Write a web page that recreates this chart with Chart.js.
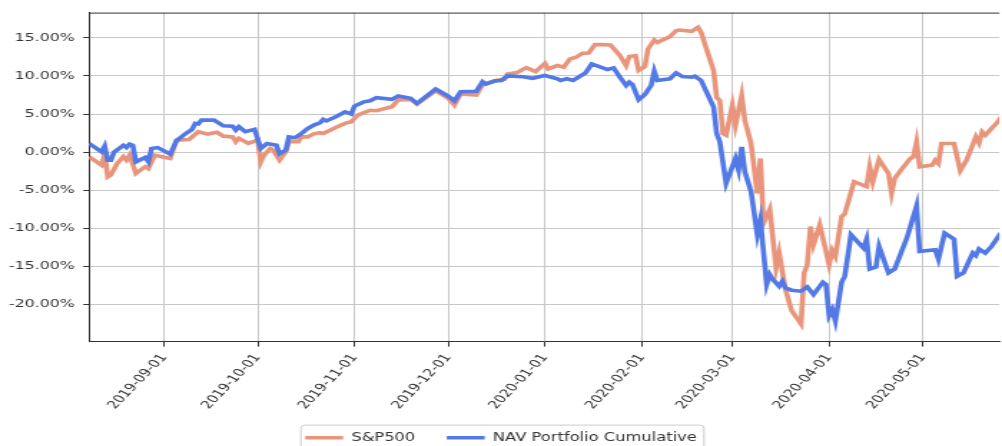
<!DOCTYPE html>
<html>
<head>
<meta charset="utf-8">
<script src="https://cdn.jsdelivr.net/npm/chart.js@4.4.1/dist/chart.umd.min.js"></script>
<style>
  html, body { margin: 0; padding: 0; background: #fff; overflow: hidden; }
  /* the reference picture is stretched sideways, so the chart is drawn narrow and scaled */
  #wrap { width: 700px; height: 446px; transform: scaleX(1.431429); transform-origin: 0 0; }
</style>
</head>
<body>
<div id="wrap"><canvas id="chart"></canvas></div>
<script>
// cumulative return, percent
var spxDates = ['2019-08-08','2019-08-12','2019-08-13','2019-08-14','2019-08-15','2019-08-17','2019-08-19','2019-08-20','2019-08-21','2019-08-23',
  '2019-08-26','2019-08-27','2019-08-29','2019-09-03','2019-09-05','2019-09-09','2019-09-12','2019-09-15','2019-09-18','2019-09-20',
  '2019-09-23','2019-09-24','2019-09-25','2019-09-28','2019-10-01','2019-10-02','2019-10-03','2019-10-05','2019-10-06','2019-10-08',
  '2019-10-10','2019-10-11','2019-10-14','2019-10-15','2019-10-17','2019-10-19','2019-10-21','2019-10-22','2019-10-26','2019-10-29',
  '2019-10-31','2019-11-02','2019-11-06','2019-11-08','2019-11-13','2019-11-15','2019-11-19','2019-11-21','2019-11-27','2019-12-01',
  '2019-12-03','2019-12-05','2019-12-10','2019-12-12','2019-12-16','2019-12-19','2019-12-20','2019-12-23','2019-12-26','2019-12-29',
  '2020-01-01','2020-01-02','2020-01-05','2020-01-07','2020-01-09','2020-01-11','2020-01-13','2020-01-15','2020-01-17','2020-01-19',
  '2020-01-22','2020-01-25','2020-01-27','2020-01-28','2020-01-30','2020-01-31','2020-02-02','2020-02-03','2020-02-05','2020-02-06',
  '2020-02-10','2020-02-12','2020-02-13','2020-02-17','2020-02-19','2020-02-20','2020-02-24','2020-02-25','2020-02-26','2020-02-27',
  '2020-02-28','2020-03-01','2020-03-02','2020-03-04','2020-03-05','2020-03-07','2020-03-09','2020-03-10','2020-03-11','2020-03-13',
  '2020-03-15','2020-03-16','2020-03-18','2020-03-20','2020-03-23','2020-03-24','2020-03-25','2020-03-26','2020-03-27','2020-03-29',
  '2020-04-01','2020-04-02','2020-04-03','2020-04-05','2020-04-06','2020-04-09','2020-04-13','2020-04-14','2020-04-15','2020-04-17',
  '2020-04-20','2020-04-21','2020-04-22','2020-04-24','2020-04-27','2020-04-28','2020-04-29','2020-04-30','2020-05-04','2020-05-05',
  '2020-05-06','2020-05-07','2020-05-11','2020-05-13','2020-05-15','2020-05-18','2020-05-19','2020-05-20','2020-05-21','2020-05-23',
  '2020-05-25','2020-05-26'];
var spxValues = [-0.60,-1.70,-0.20,-3.25,-3.00,-1.50,-0.60,-1.05,-0.40,-2.80,
  -1.90,-2.15,-0.40,-0.83,1.58,1.67,2.68,2.37,2.60,2.10,
  2.00,1.36,1.80,1.14,1.58,-1.27,-0.40,0.48,0.26,-1.05,
  0.04,1.36,1.36,2.00,2.00,2.40,2.55,2.46,3.25,3.77,
  4.00,4.87,5.50,5.44,5.96,6.84,6.93,6.30,8.07,7.06,
  6.18,7.63,7.50,8.80,9.40,9.56,10.26,10.44,11.10,10.57,
  11.66,10.93,11.37,11.15,12.24,12.46,12.98,13.02,14.11,14.11,
  14.07,12.68,11.37,12.55,12.68,10.72,11.24,13.55,14.72,14.42,
  15.16,15.94,16.03,15.86,16.38,15.73,10.72,7.14,6.80,2.44,
  2.22,6.14,3.53,7.45,4.18,1.13,-5.40,-0.83,-9.32,-7.49,
  -15.20,-13.20,-17.99,-20.82,-22.56,-15.86,-14.77,-9.76,-12.15,-9.54,
  -14.77,-12.90,-13.68,-8.45,-8.10,-3.88,-4.53,-1.92,-3.88,-0.96,
  -2.79,-5.40,-3.44,-2.35,-0.83,-0.61,1.35,-1.92,-1.70,-1.05,
  -1.48,1.13,1.13,-2.44,-1.05,2.00,1.22,2.66,2.22,3.09,
  3.96,4.60];

var navDates = ['2019-08-08','2019-08-12','2019-08-13','2019-08-14','2019-08-15','2019-08-16','2019-08-19','2019-08-20','2019-08-21','2019-08-22',
  '2019-08-23','2019-08-26','2019-08-27','2019-08-28','2019-08-30','2019-09-03','2019-09-05','2019-09-08','2019-09-10','2019-09-11',
  '2019-09-12','2019-09-13','2019-09-17','2019-09-20','2019-09-23','2019-09-24','2019-09-25','2019-09-27','2019-09-30','2019-10-02',
  '2019-10-04','2019-10-07','2019-10-08','2019-10-10','2019-10-11','2019-10-13','2019-10-15','2019-10-17','2019-10-19','2019-10-21',
  '2019-10-22','2019-10-23','2019-10-26','2019-10-29','2019-10-31','2019-11-01','2019-11-04','2019-11-06','2019-11-08','2019-11-13',
  '2019-11-15','2019-11-19','2019-11-21','2019-11-27','2019-12-01','2019-12-03','2019-12-05','2019-12-10','2019-12-12','2019-12-13',
  '2019-12-16','2019-12-18','2019-12-20','2019-12-25','2019-12-28','2020-01-01','2020-01-05','2020-01-06','2020-01-08','2020-01-10',
  '2020-01-14','2020-01-16','2020-01-21','2020-01-23','2020-01-25','2020-01-27','2020-01-28','2020-01-29','2020-01-31','2020-02-02',
  '2020-02-04','2020-02-05','2020-02-06','2020-02-10','2020-02-12','2020-02-14','2020-02-17','2020-02-18','2020-02-20','2020-02-23',
  '2020-02-24','2020-02-25','2020-02-26','2020-02-28','2020-03-02','2020-03-03','2020-03-04','2020-03-05','2020-03-07','2020-03-09',
  '2020-03-10','2020-03-12','2020-03-13','2020-03-14','2020-03-16','2020-03-17','2020-03-18','2020-03-20','2020-03-23','2020-03-25',
  '2020-03-27','2020-03-30','2020-03-31','2020-04-01','2020-04-02','2020-04-03','2020-04-05','2020-04-06','2020-04-08','2020-04-12',
  '2020-04-13','2020-04-14','2020-04-16','2020-04-17','2020-04-20','2020-04-22','2020-04-26','2020-04-29','2020-04-30','2020-05-05',
  '2020-05-06','2020-05-08','2020-05-11','2020-05-12','2020-05-14','2020-05-17','2020-05-18','2020-05-19','2020-05-21','2020-05-23',
  '2020-05-26'];
var navValues = [1.14,0.04,0.80,-1.05,-1.05,0.00,0.90,0.60,1.05,0.90,
  -1.27,-0.70,-1.27,0.48,0.60,-0.26,1.50,2.46,2.98,3.77,
  3.70,4.20,4.20,3.46,3.40,2.90,3.33,2.68,3.00,0.48,
  1.14,0.90,-0.20,0.26,2.00,1.90,2.46,3.10,3.55,3.86,
  4.30,4.10,4.65,5.30,5.00,6.05,6.60,6.75,7.15,6.93,
  7.37,7.06,6.40,8.29,7.37,6.75,7.94,8.00,9.25,8.95,
  9.34,9.40,10.00,9.90,9.70,10.06,9.63,9.41,9.63,9.41,
  10.41,11.59,10.85,11.06,9.84,8.76,9.19,8.89,6.88,7.58,
  8.76,10.63,9.41,9.63,10.41,9.93,9.84,9.98,9.41,6.80,
  5.92,2.44,1.35,-4.09,-0.83,-2.35,0.70,-2.57,-5.18,-10.85,
  -8.89,-17.38,-16.07,-16.73,-17.60,-16.95,-17.82,-18.12,-18.25,-17.69,
  -18.69,-17.08,-17.38,-21.43,-20.65,-22.17,-17.08,-16.29,-10.85,-12.59,
  -11.41,-15.33,-15.07,-12.37,-15.86,-15.33,-11.15,-7.06,-13.02,-12.81,
  -14.03,-10.63,-11.41,-16.29,-15.86,-13.24,-13.59,-12.72,-13.24,-12.37,
  -10.63];

var yTicks = [-20, -15, -10, -5, 0, 5, 10, 15];
var xTickDates = ['2019-09-01','2019-10-01','2019-11-01','2019-12-01','2020-01-01','2020-02-01','2020-03-01','2020-04-01','2020-05-01'];

function toPoints(dates, values) {
    return dates.map(function (d, i) { return {x: Date.parse(d), y: values[i]}; });
}

// top spine and the legend frame
var extras = {
    id: 'extras',
    beforeDraw: function (chart) {
        var ctx = chart.ctx;
        var boxes = chart.legend.legendHitBoxes;
        if (boxes && boxes.length) {
            var left = Math.min.apply(null, boxes.map(function (b) { return b.left; })) - 3;
            var right = Math.max.apply(null, boxes.map(function (b) { return b.left + b.width; })) + 5;
            var top = boxes[0].top - 7;
            ctx.save();
            ctx.strokeStyle = '#cccccc';
            ctx.lineWidth = 1;
            ctx.beginPath();
            ctx.roundRect(left, top, right - left, 40, 3);
            ctx.stroke();
            ctx.restore();
        }
    },
    afterDraw: function (chart) {
        var a = chart.chartArea;
        var ctx = chart.ctx;
        ctx.save();
        ctx.strokeStyle = '#333333';
        ctx.lineWidth = 1;
        ctx.beginPath();
        ctx.moveTo(a.left, a.top + 0.5);
        ctx.lineTo(a.right, a.top + 0.5);
        ctx.stroke();
        ctx.restore();
    }
};

Chart.defaults.font.family = 'DejaVu Sans';
Chart.defaults.font.size = 11;
Chart.defaults.color = '#333333';

var chart = new Chart(document.getElementById('chart'), {
    type: 'line',
    data: {
        datasets: [{
            label: 'S&P500',
            data: toPoints(spxDates, spxValues),
            borderColor: '#e9957c',
            backgroundColor: '#e9957c',
            borderWidth: 3.6,
            pointRadius: 0,
            order: 1
        }, {
            label: 'NAV Portfolio Cumulative',
            data: toPoints(navDates, navValues),
            borderColor: '#5279e5',
            backgroundColor: '#5279e5',
            borderWidth: 3.6,
            pointRadius: 0,
            order: 0
        }]
    },
    options: {
        animation: false,
        responsive: true,
        maintainAspectRatio: false,
        layout: { padding: { top: 12, right: 0, bottom: -7.5, left: 0 } },
        plugins: {
            tooltip: { enabled: false },
            legend: {
                position: 'bottom',
                labels: {
                    boxWidth: 26.5,
                    boxHeight: 3.5,
                    padding: 22,
                    color: '#333333',
                    font: { size: 11.4 },
                    sort: function (a, b) { return a.datasetIndex - b.datasetIndex; },
                    generateLabels: function (chart) {
                        var items = Chart.defaults.plugins.legend.labels.generateLabels(chart);
                        items.forEach(function (it) { it.lineWidth = 0; });
                        return items;
                    }
                }
            }
        },
        scales: {
            x: {
                type: 'linear',
                min: Date.parse('2019-08-08'),
                max: Date.parse('2020-05-25T13:00:00Z'),
                afterBuildTicks: function (scale) {
                    scale.ticks = xTickDates.map(function (d) { return {value: Date.parse(d)}; });
                },
                afterFit: function (scale) { scale.height = 68.5; },
                ticks: {
                    autoSkip: false,
                    minRotation: 55,
                    maxRotation: 55,
                    padding: 5,
                    callback: function (v) { return new Date(v).toISOString().slice(0, 10); }
                },
                grid: { color: '#c8c8c8', tickColor: '#333333', tickLength: 5 },
                border: { color: '#333333', width: 1 }
            },
            y: {
                min: -24.87,
                max: 18.32,
                afterBuildTicks: function (scale) {
                    scale.ticks = yTicks.map(function (v) { return {value: v}; });
                },
                afterFit: function (scale) { scale.width = 62.2; },
                ticks: {
                    padding: 6,
                    callback: function (v) { return v.toFixed(2) + '%'; }
                },
                grid: { color: '#c8c8c8', tickColor: '#333333', tickLength: 4 },
                border: { color: '#333333', width: 1 }
            }
        }
    },
    plugins: [extras]
});
</script>
</body>
</html>
